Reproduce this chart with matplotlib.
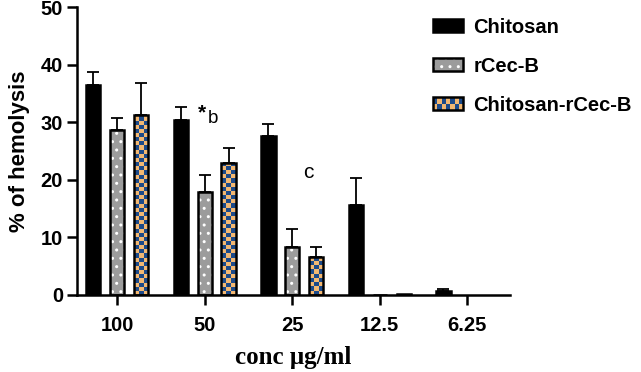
import numpy as np
import matplotlib.pyplot as plt
from matplotlib.patches import Rectangle
from matplotlib.colors import ListedColormap
from matplotlib.legend_handler import HandlerBase, HandlerTuple

# data
concs = ["100", "50", "25", "12.5", "6.25"]
series = ["Chitosan", "rCec-B", "Chitosan-rCec-B"]
chitosan = [36.5, 30.4, 27.6, 15.6, 0.7]
chitosan_err = [2.3, 2.3, 2.1, 4.7, 0.4]
rcec = [28.6, 17.9, 8.3, 0.05, 0.0]
rcec_err = [2.1, 2.9, 3.1, 0.0, 0.0]
combo = [31.2, 23.0, 6.6, 0.15, 0.0]
combo_err = [5.6, 2.5, 1.8, 0.0, 0.0]
annotations = [("*b", 1.04, 30.9), ("c", 2.18, 21.2)]

navy = "#1c4a8a"
orange = "#f3b872"
grey = "#9c9c9c"
sans = "Liberation Sans"

fig = plt.figure(figsize=(6.41, 3.72), dpi=100)
ax = fig.add_axes([0.120, 0.207, 0.676, 0.774])

x = np.arange(len(concs))
width = 0.165
offset = 0.274
edge_lw = 1.8


def checker(nr, nc):
    return (np.add.outer(np.arange(nr), np.arange(nc)) % 2).astype(float)


cmap_chk = ListedColormap([orange, navy])

# Chitosan - solid black
b1 = ax.bar(x - offset, chitosan, width, color="black", edgecolor="black",
            linewidth=edge_lw, zorder=2)

# rCec-B - grey with white dots
b2f = ax.bar(x, rcec, width, color=grey, edgecolor="white", hatch="..",
             linewidth=0, zorder=2)
b2e = ax.bar(x, rcec, width, fill=False, edgecolor="black",
             linewidth=edge_lw, zorder=3)

# Chitosan-rCec-B - checkerboard
b3 = ax.bar(x + offset, combo, width, color=orange, edgecolor="black",
            linewidth=edge_lw, zorder=3)
cell_h = 0.72
for rect in b3:
    h = rect.get_height()
    if h <= 0.5:
        continue
    nr = int(np.ceil(h / cell_h))
    im = ax.imshow(checker(nr, 3), cmap=cmap_chk, aspect="auto",
                   interpolation="nearest", origin="lower",
                   extent=(rect.get_x(), rect.get_x() + rect.get_width(),
                           0, nr * cell_h), zorder=2.5)
    im.set_clip_path(rect)
    rect.set_facecolor("none")

# hide outlines of empty bars
for bars in (b1, b2e, b3):
    for rect in bars:
        if rect.get_height() == 0:
            rect.set_linewidth(0)

# upper error bars only
for xs, vals, errs in [(x - offset, chitosan, chitosan_err),
                       (x, rcec, rcec_err),
                       (x + offset, combo, combo_err)]:
    errs = np.array(errs)
    keep = errs > 0
    ax.errorbar(xs[keep], np.array(vals)[keep],
                yerr=[np.zeros(keep.sum()), errs[keep]],
                fmt="none", ecolor="black", elinewidth=1.3, capsize=4,
                capthick=1.3, zorder=1)

for txt, tx, ty in annotations:
    if txt.startswith("*"):
        ax.text(tx - 0.02, ty + 0.8, "*", fontsize=15, ha="right", va="center",
                fontweight="bold", family=sans)
        ax.text(tx - 0.01, ty - 0.3, txt[1:], fontsize=13.5, ha="left",
                va="center", family=sans)
    else:
        ax.text(tx, ty, txt, fontsize=15, ha="center", va="center",
                family=sans)

ax.set_xlim(-0.46, 4.49)
ax.set_ylim(0, 50)
ax.set_yticks([0, 10, 20, 30, 40, 50])
ax.set_xticks(x)
ax.set_xticklabels(concs)
for s in ["top", "right"]:
    ax.spines[s].set_visible(False)
for s in ["left", "bottom"]:
    ax.spines[s].set_linewidth(1.8)
ax.tick_params(axis="both", width=1.8, length=7, labelsize=14.5, pad=3)
ax.tick_params(axis="x", pad=8)
for lab in ax.get_xticklabels() + ax.get_yticklabels():
    lab.set_fontweight("bold")
    lab.set_family(sans)

ax.set_ylabel("% of hemolysis", fontsize=16, fontweight="bold",
              family=sans, labelpad=8)
ax.set_xlabel("conc \u03bcg/ml", fontsize=18, fontweight="bold",
              family="Liberation Serif", labelpad=8)


class CheckerKey:
    pass


class CheckerHandler(HandlerBase):
    def create_artists(self, legend, orig_handle, xdescent, ydescent,
                       width, height, fontsize, trans):
        arts = []
        nc, nr = 7, 2
        cw, ch = width / nc, height / nr
        for i in range(nr):
            for j in range(nc):
                c = navy if (i + j) % 2 else orange
                arts.append(Rectangle((-xdescent + j * cw, -ydescent + i * ch),
                                      cw, ch, facecolor=c, edgecolor="none",
                                      transform=trans))
        arts.append(Rectangle((-xdescent, -ydescent), width, height,
                              facecolor="none", edgecolor="black",
                              linewidth=edge_lw, transform=trans))
        return arts


leg = fig.legend([b1, (b2f, b2e), CheckerKey()], series,
                 handler_map={tuple: HandlerTuple(ndivide=1, pad=0),
                              CheckerKey: CheckerHandler()},
                 loc="upper left", bbox_to_anchor=(0.66, 0.98),
                 frameon=False, handlelength=1.5, handleheight=0.6,
                 labelspacing=1.0, handletextpad=0.5, borderpad=0,
                 prop={"family": sans, "weight": "bold", "size": 14.5})

fig.savefig("out.png", dpi=100)
